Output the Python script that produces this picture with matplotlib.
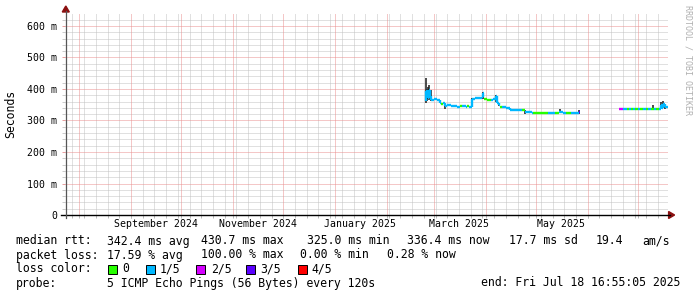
import matplotlib
matplotlib.use("Agg")
import matplotlib.pyplot as plt
import matplotlib.dates as mdates
from matplotlib.collections import LineCollection
from matplotlib.patches import Polygon, Rectangle
from matplotlib.lines import Line2D
import numpy as np
import pandas as pd

W, H = 697, 297
FONT = "DejaVu Sans Mono"

# ---------------- data ----------------
end_time = pd.Timestamp("2025-07-18 16:55:05")
start_time = end_time - pd.Timedelta(days=360)

y_ticks = [0.0, 0.1, 0.2, 0.3, 0.4, 0.5, 0.6]
y_tick_labels = ["0", "100 m", "200 m", "300 m", "400 m", "500 m", "600 m"]
x_label_dates = ["2024-09-16", "2024-11-16", "2025-01-16", "2025-03-16", "2025-05-16"]
x_label_text = ["September 2024", "November 2024", "January 2025", "March 2025", "May 2025"]

loss_colors = ["#26ff00", "#00b8ff", "#d400ff", "#5a00ff", "#ff0000"]
loss_names = ["0", "1/5", "2/5", "3/5", "4/5"]

# median rtt (ms) as steps, with loss class index
med_time = [
    "2025-02-24 00:00", "2025-02-24 12:00", "2025-02-25 06:00", "2025-02-26 00:00",
    "2025-02-26 18:00", "2025-02-27 12:00", "2025-03-01 00:00", "2025-03-03 00:00",
    "2025-03-04 12:00", "2025-03-05 12:00", "2025-03-06 12:00", "2025-03-07 12:00",
    "2025-03-09 00:00", "2025-03-11 00:00", "2025-03-13 00:00", "2025-03-15 00:00",
    "2025-03-16 12:00", "2025-03-18 00:00", "2025-03-20 00:00", "2025-03-21 00:00",
    "2025-03-22 00:00", "2025-03-23 18:00", "2025-03-25 12:00", "2025-03-27 12:00",
    "2025-03-29 12:00", "2025-03-30 12:00", "2025-03-31 00:00", "2025-04-02 00:00",
    "2025-04-04 00:00", "2025-04-05 12:00", "2025-04-07 00:00", "2025-04-07 18:00",
    "2025-04-08 18:00", "2025-04-09 12:00", "2025-04-10 12:00", "2025-04-13 00:00",
    "2025-04-15 12:00", "2025-04-19 00:00", "2025-04-22 18:00", "2025-04-24 12:00",
    "2025-04-27 00:00", "2025-04-28 18:00", "2025-04-29 12:00", "2025-05-03 00:00",
    "2025-05-06 00:00", "2025-05-08 06:00", "2025-05-10 12:00", "2025-05-12 12:00",
    "2025-05-14 12:00", "2025-05-17 00:00", "2025-05-19 00:00", "2025-05-22 00:00",
    "2025-05-25 00:00", "2025-05-27 00:00", "2025-05-27 12:00",
    "2025-06-19 18:00", "2025-06-21 00:00", "2025-06-22 00:00", "2025-06-23 12:00",
    "2025-06-24 12:00", "2025-06-25 12:00", "2025-06-27 00:00", "2025-06-28 00:00",
    "2025-06-29 12:00", "2025-07-01 00:00", "2025-07-02 12:00", "2025-07-04 00:00",
    "2025-07-05 12:00", "2025-07-07 00:00", "2025-07-09 00:00", "2025-07-10 12:00",
    "2025-07-12 00:00", "2025-07-13 12:00", "2025-07-14 12:00", "2025-07-15 06:00",
    "2025-07-16 00:00", "2025-07-17 00:00", "2025-07-18 16:55",
]
med_ms = [
    362, 395, 372, 398, 378, 366, 367, 364,
    357, 353, 356, 346, 348, 345, 346, 344,
    347, 345, 344, 345, 343, 369, 372, 371,
    374, 386, 367, 365, 366, 368, 377, 356,
    349, 344, 342, 340, 333, 332, 333, 328,
    327, 325, 325, 324, 325, 325, 324, 325,
    326, 325, 324, 325, 324, 326, np.nan,
    336, 335, 337, 338, 336, 338, 336, 337,
    335, 337, 336, 337, 335, 337, 336, 337,
    336, 338, 348, 340, 352, 343, np.nan,
]
med_loss = [
    1, 1, 1, 1, 1, 1, 1, 1,
    1, 0, 1, 1, 1, 1, 1, 1,
    0, 1, 1, 0, 1, 1, 1, 1,
    1, 1, 0, 0, 1, 1, 1, 1,
    1, 0, 1, 1, 1, 1, 0, 1,
    1, 1, 0, 0, 0, 1, 1, 0,
    1, 1, 0, 1, 1, 3, 0,
    2, 2, 1, 1, 0, 1, 0, 1,
    0, 1, 0, 1, 0, 1, 0, 1,
    0, 1, 1, 1, 1, 1, 0,
]

# dark smoke spikes (ms)
smoke_time = [
    "2025-02-24 00:00", "2025-02-24 18:00", "2025-02-25 12:00", "2025-02-26 06:00",
    "2025-02-27 00:00", "2025-03-07 12:00", "2025-03-23 18:00", "2025-03-30 12:00",
    "2025-04-07 00:00", "2025-04-08 18:00", "2025-04-24 12:00", "2025-05-15 12:00",
    "2025-05-27 00:00", "2025-07-09 18:00", "2025-07-14 12:00", "2025-07-15 06:00",
    "2025-07-16 00:00", "2025-07-17 00:00",
]
smoke_lo = [356, 362, 368, 366, 362, 338, 343, 367, 360, 345, 322, 323, 322, 336, 336, 338, 340, 337]
smoke_hi = [434, 400, 405, 414, 396, 356, 370, 391, 382, 357, 334, 336, 332, 349, 360, 352, 362, 352]

stat_rtt = ["median rtt:", "342.4 ms avg", "430.7 ms max", "325.0 ms min", "336.4 ms now", "17.7 ms sd", "19.4", "am/s"]
stat_rtt_x = [16, 107, 201, 307, 407, 509, 596, 642]
stat_loss = ["packet loss:", "17.59 % avg", "100.00 % max", "0.00 % min", "0.28 % now"]
stat_loss_x = [16, 107, 201, 300, 387]
probe_text = ["probe:", "5 ICMP Echo Pings (56 Bytes) every 120s", "end: Fri Jul 18 16:55:05 2025"]

# ---------------- figure ----------------
fig = plt.figure(figsize=(W / 100, H / 100), dpi=100)
fig.patch.set_facecolor("white")

X0, X1 = 65.3, 667.6
YB, YT = 215.0, 13.4
ax = fig.add_axes([X0 / W, (H - YB) / H, (X1 - X0) / W, (YB - YT) / H])
ax.set_facecolor("white")
for s in ax.spines.values():
    s.set_visible(False)

t0 = mdates.date2num(start_time)
t1 = mdates.date2num(end_time)
ax.set_xlim(t0, t1)
ax.set_ylim(0, 0.64)

PX = 0.72  # one pixel in points
dot = (0, (1, 1))
minor_c = "#c2c2c2"
major_c = "#ea9090"

# vertical grid
months = pd.date_range(start_time.normalize(), end_time, freq="MS")
weeks = pd.date_range(start_time.normalize(), end_time, freq="W-SUN")
month_num = [mdates.date2num(m) for m in months]
for w in weeks:
    wn = mdates.date2num(w)
    if min(abs(wn - m) for m in month_num) > 0.5:
        ax.axvline(wn, color=minor_c, lw=PX, ls=dot, zorder=0)
for m in month_num:
    ax.axvline(m, color=major_c, lw=PX, ls=dot, zorder=0.5)

# horizontal grid
for k in range(1, 32):
    yv = k * 0.02
    if k % 5 == 0:
        ax.axhline(yv, color=major_c, lw=PX, ls=dot, zorder=0.5)
    else:
        ax.axhline(yv, color=minor_c, lw=PX, ls=dot, zorder=0)

# ticks
ax.set_yticks(y_ticks)
ax.set_yticklabels(y_tick_labels, family=FONT, fontsize=7.1, color="#000000")
ax.set_yticks([k * 0.02 for k in range(32) if k % 5 != 0], minor=True)
ax.tick_params(axis="y", which="major", length=2.5, width=PX, color="#e8a0a0", pad=3.5)
ax.tick_params(axis="y", which="minor", length=2.5, width=PX, color="#cccccc")

ax.set_xticks([mdates.date2num(pd.Timestamp(d)) for d in x_label_dates])
ax.set_xticklabels(x_label_text, family=FONT, fontsize=7.1, color="#000000")
ax.tick_params(axis="x", which="major", length=0, pad=3.0)
ax.set_xticks([mdates.date2num(w) for w in weeks] + month_num, minor=True)
ax.tick_params(axis="x", which="minor", length=2.5, width=PX, color="#bbbbbb")

# smoke spikes
st = [mdates.date2num(pd.Timestamp(s)) for s in smoke_time]
ax.vlines(st, np.array(smoke_lo) / 1000, np.array(smoke_hi) / 1000,
          color="#1a1a1a", lw=1.1, zorder=3)

# median steps coloured by loss
mt = [mdates.date2num(pd.Timestamp(s)) for s in med_time]
mv = np.array(med_ms, dtype=float) / 1000
segs, cols = [], []
for i in range(len(mt) - 1):
    if np.isnan(mv[i]):
        continue
    segs.append([(mt[i], mv[i]), (mt[i + 1], mv[i])])
    cols.append(loss_colors[med_loss[i]])
    if i > 0 and not np.isnan(mv[i - 1]) and med_loss[i - 1] == med_loss[i]:
        segs.append([(mt[i], mv[i - 1]), (mt[i], mv[i])])
        cols.append(loss_colors[med_loss[i]])
ax.add_collection(LineCollection(segs, colors=cols, linewidths=1.7, zorder=4,
                                 capstyle="butt"))

# ---------------- axis lines & arrows (pixel coords) ----------------
def fx(x):
    return x / W

def fy(y):
    return 1 - y / H

fig.add_artist(Line2D([fx(61), fx(X1 + 2)], [fy(YB), fy(YB)], color="#000000", lw=1.0))
fig.add_artist(Line2D([fx(X0 + 0.5), fx(X0 + 0.5)], [fy(YB + 3), fy(11)], color="#555555", lw=0.9))
arrow_c = "#8b1010"
fig.add_artist(Polygon([(fx(X1 + 1), fy(YB - 3.5)), (fx(X1 + 1), fy(YB + 3.5)), (fx(X1 + 7), fy(YB))],
                       closed=True, color=arrow_c, transform=fig.transFigure))
fig.add_artist(Polygon([(fx(X0 - 3), fy(12)), (fx(X0 + 4), fy(12)), (fx(X0 + 0.5), fy(6))],
                       closed=True, color=arrow_c, transform=fig.transFigure))

# labels
fig.text(fx(11), fy(114), "Seconds", rotation=90, family=FONT, fontsize=8.3,
         ha="center", va="center", color="#000000")
fig.text(fx(688), fy(60), "RRDTOOL / TOBI OETIKER", rotation=270, family=FONT,
         fontsize=6.0, ha="center", va="center", color="#b0b0b0")

LEG = 8.3
for txt, x in zip(stat_rtt, stat_rtt_x):
    fig.text(fx(x), fy(241), txt, family=FONT, fontsize=LEG, ha="left", va="center")
for txt, x in zip(stat_loss, stat_loss_x):
    fig.text(fx(x), fy(255), txt, family=FONT, fontsize=LEG, ha="left", va="center")

fig.text(fx(16), fy(269), "loss color:", family=FONT, fontsize=LEG, ha="left", va="center")
box_x = [108, 146, 196, 246, 298]
lab_x = [122, 160, 211, 260, 311]
for c, name, bx, lx in zip(loss_colors, loss_names, box_x, lab_x):
    fig.add_artist(Rectangle((fx(bx), fy(273.5)), 8.5 / W, 8.5 / H, facecolor=c,
                             edgecolor="#000000", lw=0.7, transform=fig.transFigure))
    fig.text(fx(lx), fy(269), name, family=FONT, fontsize=LEG, ha="left", va="center")

fig.text(fx(16), fy(283), probe_text[0], family=FONT, fontsize=LEG, ha="left", va="center")
fig.text(fx(107), fy(283), probe_text[1], family=FONT, fontsize=LEG, ha="left", va="center")
fig.text(fx(680), fy(283), probe_text[2], family=FONT, fontsize=LEG, ha="right", va="center")

fig.savefig("out.png", dpi=100, facecolor="white")
